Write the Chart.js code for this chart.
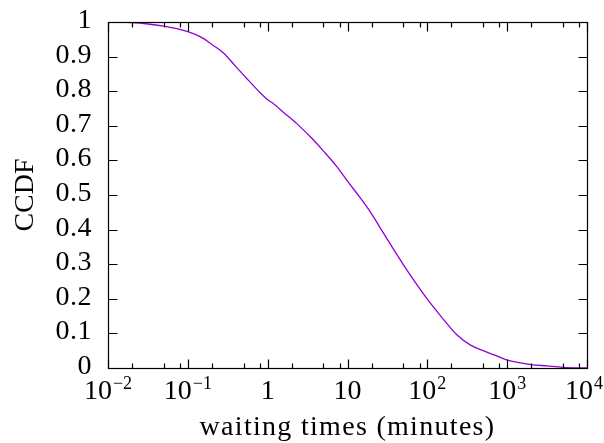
<!DOCTYPE html>
<html>
<head>
<meta charset="utf-8">
<script src="https://cdn.jsdelivr.net/npm/chart.js@4/dist/chart.umd.min.js"></script>
<style>
  html, body { margin: 0; padding: 0; background: #fff; }
  #wrap { width: 604px; height: 443px; }
</style>
</head>
<body>
<div id="wrap"><canvas id="c" width="604" height="443"></canvas></div>
<script>
// Waiting time distribution (complementary CDF)
const minutes = [0.01, 0.02, 0.03, 0.05, 0.1, 0.15, 0.2, 0.275, 0.4, 0.55, 0.75, 1, 1.15, 1.6,
                 2.3, 3.5, 5, 7.35, 10, 14, 19.2, 27, 38, 50, 70, 100, 150, 234, 348, 500, 700,
                 1000, 1466, 2000, 3165, 5000, 10000];
const ccdf = [1.0, 0.998, 0.995, 0.988, 0.972, 0.955, 0.935, 0.912, 0.871, 0.836, 0.803, 0.775,
              0.766, 0.738, 0.707, 0.666, 0.627, 0.582, 0.54, 0.496, 0.452, 0.397, 0.342, 0.299,
              0.249, 0.199, 0.148, 0.096, 0.066, 0.05, 0.037, 0.023, 0.015, 0.01, 0.006, 0.002, 0.0];

// Axis ticks
const yTicks = [0, 0.1, 0.2, 0.3, 0.4, 0.5, 0.6, 0.7, 0.8, 0.9, 1];
const yTickLabels = ['0', '0.1', '0.2', '0.3', '0.4', '0.5', '0.6', '0.7', '0.8', '0.9', '1'];
const xTicks = [0.01, 0.1, 1, 10, 100, 1000, 10000];
const xTickBase = ['10', '10', '1', '10', '10', '10', '10'];
const xTickExp = ['\u22122', '\u22121', '', '', '2', '3', '4'];
const xMinorMantissas = [2, 5, 8];

const xTitle = 'waiting times (minutes)';
const yTitle = 'CCDF';

const FONT = '"Liberation Serif", "Times New Roman", serif';

const frameAxes = {
  id: 'frameAxes',
  afterDraw(chart) {
    const { ctx, chartArea: a, scales } = chart;
    const sx = scales.x, sy = scales.y;
    const L = Math.round(a.left) + 0.5, R = Math.round(a.right) + 0.5;
    const T = Math.round(a.top) + 0.5, B = Math.round(a.bottom) + 0.5;
    const major = 9, minor = 5;
    ctx.save();
    ctx.strokeStyle = '#000';
    ctx.lineWidth = 1.2;
    ctx.strokeRect(L, T, R - L, B - T);

    ctx.beginPath();
    // x ticks, bottom and top, pointing inward
    xTicks.forEach(v => {
      const px = Math.round(sx.getPixelForValue(v)) + 0.5;
      ctx.moveTo(px, B); ctx.lineTo(px, B - major);
      ctx.moveTo(px, T); ctx.lineTo(px, T + major);
    });
    for (let d = 0; d < xTicks.length - 1; d++) {
      xMinorMantissas.forEach(m => {
        const px = Math.round(sx.getPixelForValue(xTicks[d] * m)) + 0.5;
        ctx.moveTo(px, B); ctx.lineTo(px, B - minor);
        ctx.moveTo(px, T); ctx.lineTo(px, T + minor);
      });
    }
    // y ticks, left and right
    yTicks.forEach(v => {
      const py = Math.round(sy.getPixelForValue(v)) + 0.5;
      ctx.moveTo(L, py); ctx.lineTo(L + major, py);
      ctx.moveTo(R, py); ctx.lineTo(R - major, py);
    });
    ctx.stroke();

    ctx.fillStyle = '#000';
    // y tick labels
    ctx.font = '28px ' + FONT;
    ctx.letterSpacing = '0.5px';
    ctx.textAlign = 'right';
    ctx.textBaseline = 'alphabetic';
    yTicks.forEach((v, i) => {
      const py = sy.getPixelForValue(v);
      ctx.fillText(yTickLabels[i], a.left - 16, py + 6);
    });
    ctx.letterSpacing = '0px';

    // x tick labels with superscript exponents
    const baseY = a.bottom + 31;
    xTicks.forEach((v, i) => {
      const px = sx.getPixelForValue(v);
      ctx.font = '28px ' + FONT;
      const wb = ctx.measureText(xTickBase[i]).width;
      ctx.font = '18px ' + FONT;
      const we = xTickExp[i] ? ctx.measureText(xTickExp[i]).width + 1 : 0;
      const x0 = Math.min(px - (wb + we) / 2, 603 - wb - we);
      ctx.textAlign = 'left';
      ctx.font = '28px ' + FONT;
      ctx.fillText(xTickBase[i], x0, baseY);
      if (xTickExp[i]) {
        ctx.font = '18px ' + FONT;
        ctx.fillText(xTickExp[i], x0 + wb + 1, baseY - 10);
      }
    });

    // axis titles
    ctx.font = '28px ' + FONT;
    ctx.letterSpacing = '1.3px';
    ctx.textAlign = 'center';
    ctx.fillText(xTitle, (a.left + a.right) / 2, a.bottom + 67);
    ctx.letterSpacing = '0px';
    ctx.translate(33, (a.top + a.bottom) / 2);
    ctx.rotate(-Math.PI / 2);
    ctx.fillText(yTitle, 0, 0);
    ctx.restore();
  }
};

new Chart(document.getElementById('c'), {
  type: 'line',
  data: {
    datasets: [{
      data: minutes.map((m, i) => ({ x: m, y: ccdf[i] })),
      borderColor: '#9300d6',
      borderWidth: 1.3,
      pointRadius: 0,
      fill: false,
      cubicInterpolationMode: 'monotone'
    }]
  },
  options: {
    responsive: false,
    animation: false,
    devicePixelRatio: 1,
    layout: { padding: { left: 108, top: 22, right: 17, bottom: 75 } },
    plugins: { legend: { display: false }, tooltip: { enabled: false } },
    scales: {
      x: { type: 'logarithmic', min: 0.01, max: 10000, display: false },
      y: { type: 'linear', min: 0, max: 1, display: false }
    }
  },
  plugins: [frameAxes]
});
</script>
</body>
</html>
